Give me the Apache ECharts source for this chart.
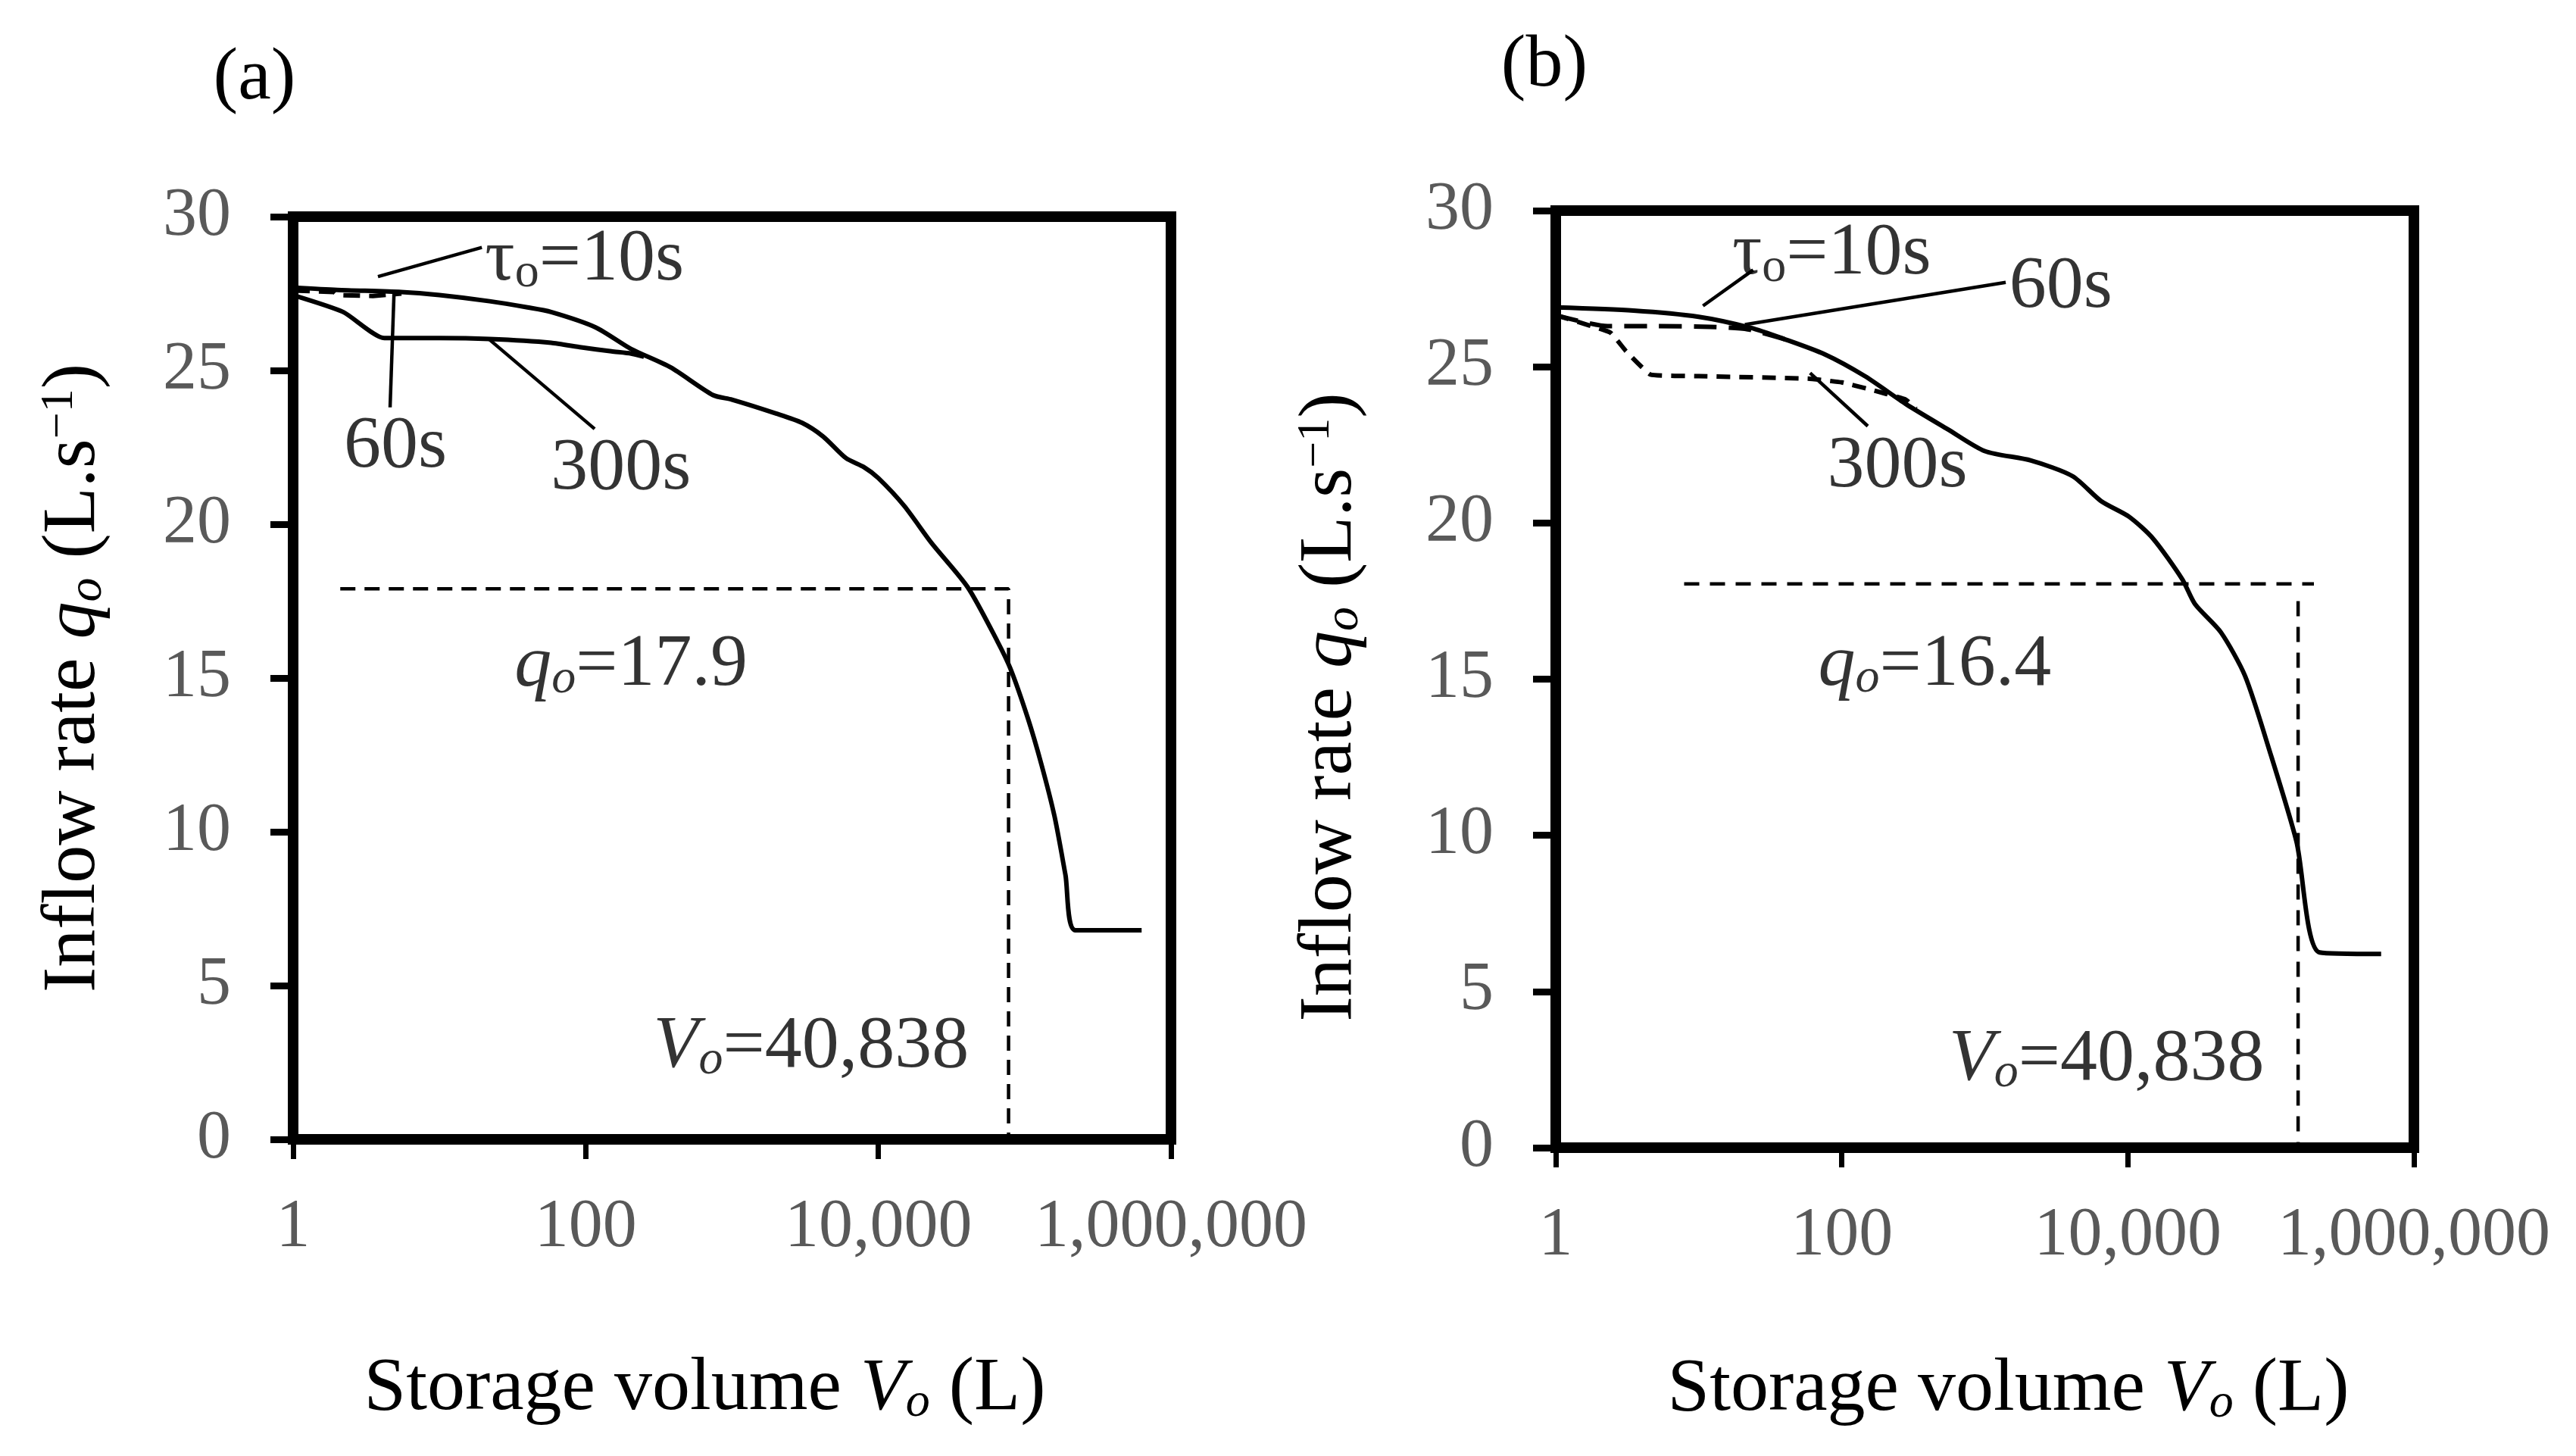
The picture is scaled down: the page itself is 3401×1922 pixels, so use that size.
<!DOCTYPE html>
<html>
<head>
<meta charset="utf-8">
<script src="https://cdn.jsdelivr.net/npm/echarts@6/dist/echarts.min.js"></script>
<style>
html, body { margin: 0; padding: 0; background: #fff; }
#main { width: 3401px; height: 1922px; }
</style>
</head>
<body>
<div id="main"></div>
<script>
// axis ticks
var xTickValues = [1, 100, 10000, 1000000];
var yMin = 0, yMax = 30, yStep = 5;

// panel (a): [storage volume V (L), inflow rate q (L/s)]
var aTau10 = [[1, 27.7], [2, 27.62], [5.5, 27.55], [10, 27.45], [22, 27.25], [40, 27.05], [58, 26.9],
  [117, 26.4], [204, 25.7], [380, 25.1], [740, 24.2], [1000, 24.05], [2000, 23.6], [3000, 23.3],
  [4200, 22.85], [6000, 22.15], [8000, 21.85], [10000, 21.5], [15000, 20.6], [23000, 19.4],
  [40838, 17.95], [65000, 16.2], [80000, 15.3], [105000, 13.7], [130000, 12.2], [160000, 10.5],
  [190000, 8.6], [222000, 6.8], [630000, 6.8]];
var aTau60 = [[1, 27.6], [1.9, 27.55], [2, 27.45], [3.5, 27.42], [5.5, 27.5]];
var aTau300 = [[1, 27.45], [2.2, 26.9], [4.2, 26.05], [10, 26.05], [22, 26.02], [58, 25.9],
  [93, 25.75], [150, 25.62], [204, 25.55], [250, 25.45]];
var aRefLine = [[2.1, 17.9], [77600, 17.9], [77600, 0]];
var aLeaders = [
  [[3.8, 28.05], [19.5, 29.0]],
  [[4.9, 27.6], [4.6, 23.8]],
  [[22, 26.0], [115, 23.1]]
];
var aNotes = [
  { at: [98, 28.6], text: 'τ{sub|o}=10s' },
  { at: [5, 22.5], text: '60s' },
  { at: [174, 21.8], text: '300s' },
  { at: [204, 15.4], text: '{i|q}{isub|o}=17.9' },
  { at: [3470, 3.0], text: '{i|V}{isub|o}=40,838' }
];

// panel (b)
var bTau10 = [[1, 26.9], [3.5, 26.8], [10, 26.6], [23, 26.25], [39, 25.9], [76, 25.4], [145, 24.7],
  [282, 23.8], [550, 23.0], [1000, 22.3], [2100, 22.0], [4100, 21.5], [6500, 20.7], [10200, 20.2],
  [15000, 19.5], [24000, 18.2], [29500, 17.4], [44700, 16.5], [66000, 15.1], [98000, 12.7],
  [151000, 9.8], [219000, 6.25], [590000, 6.2]];
var bTau60 = [[1, 26.65], [2.3, 26.3], [5, 26.3], [12, 26.28], [22, 26.2], [40, 25.88]];
var bTau300 = [[1, 26.65], [2.4, 26.1], [3.1, 25.5], [4.6, 24.75], [10, 24.7], [58, 24.62],
  [100, 24.5], [150, 24.3], [280, 23.95], [330, 23.65]];
var bRefH = [[7.9, 18.05], [200000, 18.05]];
var bRefV = [[155000, 17.5], [155000, 0]];
var bLeaders = [
  [[10.7, 26.95], [24, 28.1]],
  [[21, 26.35], [1400, 27.7]],
  [[60, 24.8], [152, 23.1]]
];
var bNotes = [
  { at: [85, 28.6], text: 'τ{sub|o}=10s' },
  { at: [3400, 27.55], text: '60s' },
  { at: [245, 21.8], text: '300s' },
  { at: [447, 15.45], text: '{i|q}{isub|o}=16.4' },
  { at: [7100, 2.8], text: '{i|V}{isub|o}=40,838' }
];

var FONT = '"Liberation Serif", "Times New Roman", serif';
var rich = {
  i: { fontStyle: 'italic', fontSize: 98, lineHeight: 100, fontFamily: FONT, color: '#000' },
  isub: { fontStyle: 'italic', fontSize: 64, lineHeight: 60, verticalAlign: 'bottom', fontFamily: FONT, color: '#000' },
  sub: { fontSize: 64, lineHeight: 60, verticalAlign: 'bottom', fontFamily: FONT, color: '#000' },
  sup: { fontSize: 62, lineHeight: 40, verticalAlign: 'top', fontFamily: FONT, color: '#000' }
};

function xAxisFor(gi, gap, pad) {
  return {
    type: 'log', logBase: 10, gridIndex: gi, min: 1, max: 1000000,
    name: 'Storage volume {i|V}{isub|o} (L)', nameLocation: 'middle', nameGap: gap,
    nameTextStyle: { fontSize: 100, lineHeight: 100, fontFamily: FONT, color: '#000', padding: pad, rich: rich },
    axisLine: { show: false },
    axisTick: { show: true, inside: false, length: 26, customValues: xTickValues, lineStyle: { color: '#000', width: 7 } },
    axisLabel: {
      customValues: xTickValues, margin: 72, fontSize: 90, fontFamily: FONT, color: '#595959',
      formatter: function (v) { return Math.round(v).toLocaleString('en-US'); }
    },
    splitLine: { show: false }, minorTick: { show: false }
  };
}

function yAxisFor(gi, gap, pad) {
  return {
    type: 'value', gridIndex: gi, min: yMin, max: yMax, interval: yStep,
    name: 'Inflow rate {i|q}{isub|o} (L.s{sup|−1})', nameLocation: 'middle', nameGap: gap,
    nameTextStyle: { fontSize: 100, lineHeight: 100, fontFamily: FONT, color: '#000', padding: pad, rich: rich },
    axisLine: { show: false },
    axisTick: { show: true, inside: false, length: 30, lineStyle: { color: '#000', width: 9 } },
    axisLabel: { margin: 82, fontSize: 90, fontFamily: FONT, color: '#595959' },
    splitLine: { show: false }
  };
}

function curve(data, gi, dash, smooth) {
  return {
    type: 'line', xAxisIndex: gi, yAxisIndex: gi, data: data, symbol: 'none', silent: true,
    smooth: smooth, z: 3,
    lineStyle: { color: '#000', width: 6, type: dash || 'solid', cap: 'butt', join: 'round' }
  };
}

function thin(data, gi, dash) {
  return {
    type: 'line', xAxisIndex: gi, yAxisIndex: gi, data: data, symbol: 'none', silent: true, z: 2,
    lineStyle: { color: '#000', width: 4.5, type: dash || 'solid', cap: 'butt' }
  };
}

function notes(list, gi) {
  return {
    type: 'scatter', xAxisIndex: gi, yAxisIndex: gi, symbolSize: 1, silent: true, z: 5,
    itemStyle: { color: 'transparent' },
    data: list.map(function (n) {
      return { value: n.at, label: { formatter: n.text } };
    }),
    label: {
      show: true, position: 'inside', fontSize: 98, lineHeight: 100, fontFamily: FONT,
      color: '#000', rich: rich
    }
  };
}

var series = [
  curve(aTau10, 0, 'solid', 0.25),
  curve(aTau60, 0, [22, 12], 0),
  curve(aTau300, 0, 'solid', 0.2),
  thin(aRefLine, 0, [20, 12]),
  curve(bTau10, 1, 'solid', 0.25),
  curve(bTau60, 1, [30, 16], 0.2),
  curve(bTau300, 1, [18, 12], 0.1),
  thin(bRefH, 1, [20, 14]),
  thin(bRefV, 1, [20, 14])
];
aLeaders.forEach(function (l) { series.push(thin(l, 0)); });
bLeaders.forEach(function (l) { series.push(thin(l, 1)); });
series.push(notes(aNotes, 0));
series.push(notes(bNotes, 1));

var myChart = echarts.init(document.getElementById('main'));
myChart.setOption({
  animation: false,
  backgroundColor: '#fff',
  grid: [
    { left: 387, top: 286, width: 1159, height: 1218, show: true, borderColor: '#000', borderWidth: 14, backgroundColor: 'transparent' },
    { left: 2054, top: 278, width: 1133, height: 1237, show: true, borderColor: '#000', borderWidth: 14, backgroundColor: 'transparent' }
  ],
  xAxis: [xAxisFor(0, 280, [0, 72, 0, 0]), xAxisFor(1, 270, [0, 0, 0, 62])],
  yAxis: [yAxisFor(0, 239, [0, 0, 0, 0]), yAxisFor(1, 247, [0, 74, 0, 0])],
  graphic: [
    { type: 'text', x: 336, y: 104, style: { text: '(a)', font: '98px ' + FONT, fill: '#000', align: 'center', verticalAlign: 'middle' } },
    { type: 'text', x: 2039, y: 87, style: { text: '(b)', font: '98px ' + FONT, fill: '#000', align: 'center', verticalAlign: 'middle' } }
  ],
  series: series
});
</script>
</body>
</html>
